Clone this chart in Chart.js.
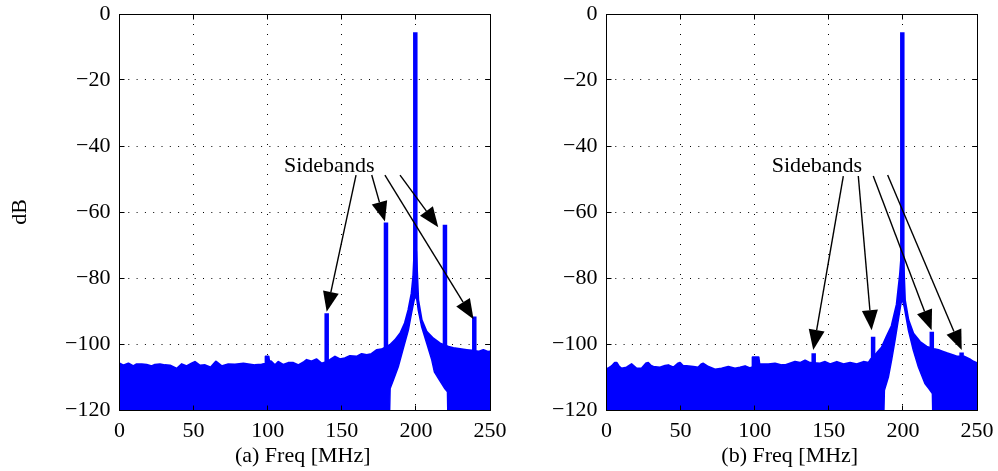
<!DOCTYPE html>
<html>
<head>
<meta charset="utf-8">
<script src="https://cdn.jsdelivr.net/npm/chart.js@4.4.1/dist/chart.umd.min.js"></script>
<style>
  html, body { margin: 0; padding: 0; background: #fff; }
  #wrap { position: relative; width: 998px; height: 471px; }
  canvas { position: absolute; top: 0; }
  #specA { left: 0; }
  #specB { left: 500px; }
</style>
</head>
<body>
<div id="wrap">
  <canvas id="specA" width="530" height="471"></canvas>
  <canvas id="specB" width="498" height="471"></canvas>
</div>
<script>
const xTicks = [0, 50, 100, 150, 200, 250];
const yTicks = [0, -20, -40, -60, -80, -100, -120];

// carrier
const carrierFreq = 199.6;
const carrierTop = -5.5;

// (a) noise floor, top edge of the band
const noiseFreqA = [0, 2.6, 6.0, 9.3, 11.6, 15.0, 18.3, 21.7, 23.9, 27.3, 30.7, 34.1, 38.6, 41.9, 45.3,
  48.7, 50.9, 54.3, 57.7, 61.5, 65.1, 68.9, 73.4, 77.9, 83.6, 86.9, 91.4, 95.9, 98.3, 98.6,
  100.6, 101.0, 102.2, 104.9, 107.2, 110.6, 113.9, 117.3, 120.7, 124.0, 126.3, 129.6, 133.0, 136.4, 138.6,
  142.0, 145.4, 148.7, 152.1, 155.5, 160.0, 163.4, 166.8, 170.1, 173.5, 176.9, 182.5, 185.9, 189.5, 192.6,
  194.9, 197.1, 198.2, 199.0, 199.6, 200.2, 201.6, 203.9, 207.3, 211.7, 216.3, 221.9, 225.3, 229.8, 234.3,
  237.7, 242.2, 245.5, 248.9, 250];
const noiseTopA = [-105.9, -106.5, -105.9, -106.7, -106.1, -106.1, -106.3, -106.7, -106.3, -106.1, -106.4, -106.5, -107.5, -106.1, -106.7,
  -105.9, -105.4, -106.5, -106.4, -107.1, -105.3, -106.7, -106.1, -106.2, -105.9, -106.1, -106.4, -106.2, -106.0, -103.8,
  -103.8, -105.2, -105.2, -106.4, -105.4, -106.3, -105.7, -105.7, -106.4, -105.6, -104.8, -105.3, -104.6, -105.9, -105.6,
  -104.8, -103.8, -104.6, -104.3, -103.6, -103.8, -103.0, -103.3, -103.0, -101.8, -101.6, -100.3, -98.8, -96.7, -93.6,
  -89.7, -84.6, -79.6, -72, -70, -72, -86.7, -92.7, -96.3, -98.3, -99.8, -100.8, -101.2, -101.5, -101.8,
  -102.0, -102.3, -101.8, -102.4, -102.2];
// (a) lower edge of the band (empty notch under the carrier skirt)
const gapFreqA = [0, 182.3, 182.6, 184.8, 188.1, 191.5, 194.9, 197.1, 198.9, 199.6, 200.6, 201.6, 203.9, 207.3, 210.7,
  212.5, 216.0, 219.5, 221.3, 221.5, 250];
const gapLowA = [-120, -120, -113.5, -110.9, -106.9, -101.3, -95.8, -90.5, -86.5, -85.5, -86.5, -89.7, -94.8, -99.8, -104.8,
  -108.5, -111.0, -113.5, -114.5, -120, -120];
const sideFreqA = [139.8, 179.8, 219.6, 239.4];
const sideTopA = [-90.7, -63.2, -63.9, -91.7];

// (b)
const noiseFreqB = [0, 1.2, 3.5, 5.5, 6.9, 8.5, 10.2, 13.6, 17.0, 20.3, 23.7, 26.8, 28.2, 30.0, 31.6,
  36.1, 39.5, 41.7, 45.1, 48.2, 49.6, 51.5, 54.1, 58.6, 61.9, 64.0, 65.3, 68.7, 73.2, 77.7,
  82.2, 86.7, 90.1, 93.5, 96.8, 98.3, 98.6, 102.6, 103.2, 104.7, 109.2, 113.7, 118.2, 120.4, 123.8,
  127.2, 130.6, 134.0, 137.3, 144.1, 147.5, 150.9, 155.4, 159.9, 164.4, 168.9, 173.4, 176.8, 178.5, 182.3,
  185.7, 189.1, 192.4, 195.8, 198.0, 199.0, 199.6, 200.2, 201.4, 203.7, 207.0, 211.5, 216.0, 221.0, 224.0,
  227.0, 230.0, 233.5, 236.3, 238.0, 241.5, 245.0, 247.5, 250];
const noiseTopB = [-107.4, -107.4, -106.7, -105.7, -105.7, -106.8, -107.4, -107.1, -106.1, -107.4, -107.4, -105.8, -105.7, -106.6, -106.9,
  -107.1, -106.6, -106.4, -107.1, -105.9, -105.7, -106.6, -106.7, -106.9, -107.1, -106.1, -105.9, -106.9, -107.7, -107.4,
  -106.9, -107.4, -107.1, -106.7, -107.3, -107.0, -104.0, -104.0, -106.1, -106.1, -106.1, -105.9, -106.4, -106.4, -105.9,
  -105.4, -105.7, -105.0, -105.7, -105.9, -105.4, -106.1, -105.4, -106.1, -105.7, -106.1, -105.4, -105.7, -104.5, -102.8,
  -101.0, -97.6, -94.5, -88.0, -79.0, -73, -71, -73, -86.7, -92.7, -96.8, -99.3, -100.8, -101.5, -101.8,
  -102.3, -102.8, -103.3, -103.8, -103.8, -103.8, -104.6, -105.3, -105.8];
const gapFreqB = [0, 187.2, 187.5, 190.2, 192.4, 194.7, 196.9, 198.7, 199.6, 200.9, 203.7, 207.0, 210.4, 214.9, 217.5,
  219.9, 220.1, 250];
const gapLowB = [-120, -120, -114, -110, -104.8, -98.8, -92.7, -87.7, -86.5, -88.7, -95.8, -101.8, -106.9, -112, -113.5,
  -115, -120, -120];
const sideFreqB = [139.8, 179.9, 219.5, 239.6];
const sideTopB = [-102.8, -97.8, -96.3, -102.6];

// annotation arrows [MHz, dB]
const arrowFromA = [[159.6, -48.8], [170.2, -48.8], [179.1, -48.8], [189.3, -48.8]];
const arrowToA = [[139.8, -90.2], [179.1, -62.9], [238.9, -92.5], [215.1, -64.6]];
const arrowFromB = [[159.8, -49.1], [169.9, -49.1], [180.0, -49.1], [189.7, -48.8]];
const arrowToB = [[139.5, -101.8], [178.9, -95.8], [219.4, -95.8], [239.7, -101.8]];

const BLUE = '#0000ff';
const FONT = '"Liberation Serif", "DejaVu Serif", serif';
const minus = v => (v < 0 ? '\u2212' + (-v) : String(v));

function pts(xs, ys) {
  return xs.map((x, i) => ({ x: x, y: ys[i] }));
}

// box, inward ticks, arrows and labels on top of the data
const decor = {
  id: 'decor',
  afterDatasetsDraw(chart, args, o) {
    const { ctx, chartArea: a, scales: { x, y } } = chart;
    const L = Math.floor(a.left) + 0.5, R = Math.floor(a.right) + 0.5;
    const T = Math.floor(a.top) + 0.5, B = Math.floor(a.bottom) + 0.5;
    ctx.save();
    ctx.strokeStyle = '#000';
    ctx.lineWidth = 1;
    ctx.strokeRect(L, T, R - L, B - T);
    ctx.beginPath();
    xTicks.forEach(v => {
      const px = Math.floor(x.getPixelForValue(v)) + 0.5;
      ctx.moveTo(px, B); ctx.lineTo(px, B - 5);
      ctx.moveTo(px, T); ctx.lineTo(px, T + 5);
    });
    yTicks.forEach(v => {
      const py = Math.floor(y.getPixelForValue(v)) + 0.5;
      ctx.moveTo(L, py); ctx.lineTo(L + 5, py);
      ctx.moveTo(R, py); ctx.lineTo(R - 5, py);
    });
    ctx.stroke();

    // arrows
    ctx.fillStyle = '#000';
    ctx.lineWidth = 1.4;
    o.from.forEach((f, i) => {
      const x0 = x.getPixelForValue(f[0]), y0 = y.getPixelForValue(f[1]);
      const x1 = x.getPixelForValue(o.to[i][0]), y1 = y.getPixelForValue(o.to[i][1]);
      const ang = Math.atan2(y1 - y0, x1 - x0);
      const len = 20, half = 8;
      const bx = x1 - len * Math.cos(ang), by = y1 - len * Math.sin(ang);
      ctx.beginPath();
      ctx.moveTo(x0, y0); ctx.lineTo(bx, by);
      ctx.stroke();
      ctx.beginPath();
      ctx.moveTo(x1, y1);
      ctx.lineTo(bx + half * Math.sin(ang), by - half * Math.cos(ang));
      ctx.lineTo(bx - half * Math.sin(ang), by + half * Math.cos(ang));
      ctx.closePath();
      ctx.fill();
    });

    ctx.font = '22px ' + FONT;
    ctx.textAlign = 'left';
    ctx.textBaseline = 'alphabetic';
    ctx.fillText('Sidebands', x.getPixelForValue(o.text[0]), y.getPixelForValue(o.text[1]));

    ctx.textAlign = 'center';
    ctx.textBaseline = 'middle';
    ctx.fillText(o.xTitle, (a.left + a.right) / 2 - 2, 456);
    if (o.yTitle) {
      ctx.translate(20, (a.top + a.bottom) / 2);
      ctx.rotate(-Math.PI / 2);
      ctx.fillText(o.yTitle, 0, 0);
    }
    ctx.restore();
  }
};

function makeChart(id, p) {
  const datasets = [
    { data: pts(p.noiseFreq, p.noiseTop), borderColor: BLUE, backgroundColor: BLUE, borderWidth: 2,
      fill: '+1', order: 1, borderJoinStyle: 'round' },
    { data: pts(p.gapFreq, p.gapLow), borderColor: BLUE, borderWidth: 1.5, fill: false, order: 2, clip: 0 }
  ];
  p.sideFreq.forEach((f, i) => {
    datasets.push({ data: [{ x: f, y: -110 }, { x: f, y: p.sideTop[i] }], borderColor: BLUE,
      borderWidth: 4.5, borderCapStyle: 'butt', fill: false, order: 0 });
  });
  datasets.push({ data: [{ x: carrierFreq, y: -84 }, { x: carrierFreq, y: carrierTop }], borderColor: BLUE,
    borderWidth: 4.5, borderCapStyle: 'butt', fill: false, order: 0 });

  const tickFont = { family: FONT, size: 22 };
  return new Chart(document.getElementById(id), {
    type: 'line',
    data: { datasets: datasets },
    options: {
      responsive: false,
      devicePixelRatio: 1,
      animation: false,
      events: [],
      layout: { padding: { left: 0, right: p.padRight, top: 14, bottom: 0 } },
      elements: { point: { radius: 0 }, line: { tension: 0 } },
      plugins: {
        legend: { display: false },
        tooltip: { enabled: false },
        decor: { from: p.arrowFrom, to: p.arrowTo, text: p.textAt, xTitle: p.xTitle, yTitle: p.yTitle }
      },
      scales: {
        x: {
          type: 'linear', min: 0, max: 250,
          afterBuildTicks: s => { s.ticks = xTicks.map(v => ({ value: v })); },
          afterFit: s => { s.height = 61; s.paddingLeft = 0; s.paddingRight = 0; },
          grid: { color: '#000', lineWidth: 1, drawTicks: false },
          border: { display: false, dash: [1, 9] },
          ticks: { padding: 8, color: '#000', font: tickFont, maxRotation: 0, autoSkip: false }
        },
        y: {
          type: 'linear', min: -120, max: 0,
          afterBuildTicks: s => { s.ticks = yTicks.map(v => ({ value: v })); },
          afterFit: s => { s.width = p.yWidth; s.paddingTop = 0; s.paddingBottom = 0; },
          grid: { color: '#000', lineWidth: 1, drawTicks: false },
          border: { display: false, dash: [1, 7.3] },
          ticks: { padding: 9, color: '#000', font: tickFont, autoSkip: false, callback: v => minus(v) }
        }
      }
    },
    plugins: [decor]
  });
}

makeChart('specA', {
  noiseFreq: noiseFreqA, noiseTop: noiseTopA, gapFreq: gapFreqA, gapLow: gapLowA,
  sideFreq: sideFreqA, sideTop: sideTopA, arrowFrom: arrowFromA, arrowTo: arrowToA,
  textAt: [111, -48], xTitle: '(a) Freq [MHz]', yTitle: 'dB', yWidth: 119.5, padRight: 40
});
makeChart('specB', {
  noiseFreq: noiseFreqB, noiseTop: noiseTopB, gapFreq: gapFreqB, gapLow: gapLowB,
  sideFreq: sideFreqB, sideTop: sideTopB, arrowFrom: arrowFromB, arrowTo: arrowToB,
  textAt: [111.5, -48], xTitle: '(b) Freq [MHz]', yTitle: null, yWidth: 106.5, padRight: 21
});
</script>
</body>
</html>
